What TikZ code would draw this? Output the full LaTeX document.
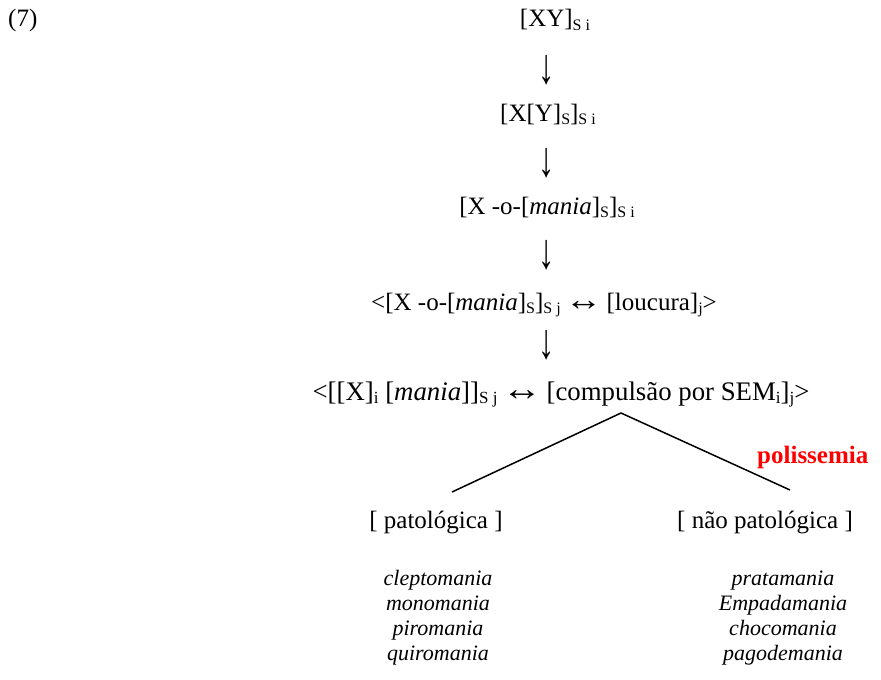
\documentclass[tikz,border=0pt]{standalone}
\usepackage{fontspec}
\setmainfont{Liberation Serif}
\newcommand\sbx[1]{\raisebox{-0.28ex}{\fontsize{16}{16}\selectfont #1}}
\newcommand\sbxb[1]{\raisebox{-0.28ex}{\fontsize{17}{17}\selectfont #1}}
\newcommand\lrar{\,\scalebox{1.5}[1.3]{↔}\,}
\tikzset{
  txt/.style={inner sep=0pt, anchor=base, font=\fontsize{25}{29}\selectfont},
  arr/.style={inner sep=0pt, anchor=center, font=\fontsize{25}{29}\selectfont},
  lst/.style={inner sep=0pt, anchor=base, font=\fontsize{22}{25}\selectfont\itshape},
  branch/.style={line width=1.5pt, black},
  poli/.style={inner sep=0pt, anchor=base west, text=red, font=\fontsize{25}{29}\selectfont\bfseries}
}
\begin{document}
\begin{tikzpicture}[x=1pt,y=-1pt]
\useasboundingbox (0,0) rectangle (881,680);
\node[txt, anchor=base west] (num) at (8,27) {(7)};
\node[txt] (l1) at (555,27) {[XY]\sbx{S i}};
\node[arr] (a1) at (547,70) {\scalebox{1.3}[2.0]{↓}};
\node[txt] (l2) at (548,121) {[X[Y]\sbx{S}]\sbx{S i}};
\node[arr] (a2) at (547,163) {\scalebox{1.3}[2.0]{↓}};
\node[txt] (l3) at (547,214) {[X -o-[\textit{mania}]\sbx{S}]\sbx{S i}};
\node[arr] (a3) at (547,255) {\scalebox{1.3}[2.0]{↓}};
\node[txt] (l4) at (544,310) {<[X -o-[\textit{mania}]\sbx{S}]\sbx{S j}\lrar[loucura]\sbx{j}>};
\node[arr] (a4) at (547,345) {\scalebox{1.3}[2.0]{↓}};
\node[txt, font=\fontsize{26.8}{30}\selectfont] (l5) at (561,400) {<[[X]\sbxb{i} [\textit{mania}]]\sbxb{S j}\lrar[compulsão por SEM\sbxb{i}]\sbxb{j}>};
\coordinate (apex) at (621,413);
\coordinate (lend) at (452,492);
\coordinate (rend) at (790,490);
\draw[branch] (lend) -- (apex) -- (rend);
\node[poli] (pol) at (757,463) {polissemia};
\node[txt] (pat) at (436,528) {[ patológica ]};
\node[txt] (npat) at (765,528) {[ não patológica ]};
\node[lst] (p1) at (438,585) {cleptomania};
\node[lst] (p2) at (438,610) {monomania};
\node[lst] (p3) at (438,635) {piromania};
\node[lst] (p4) at (438,660) {quiromania};
\node[lst] (n1) at (783,585) {pratamania};
\node[lst] (n2) at (783,610) {Empadamania};
\node[lst] (n3) at (783,635) {chocomania};
\node[lst] (n4) at (783,660) {pagodemania};
\end{tikzpicture}
\end{document}
